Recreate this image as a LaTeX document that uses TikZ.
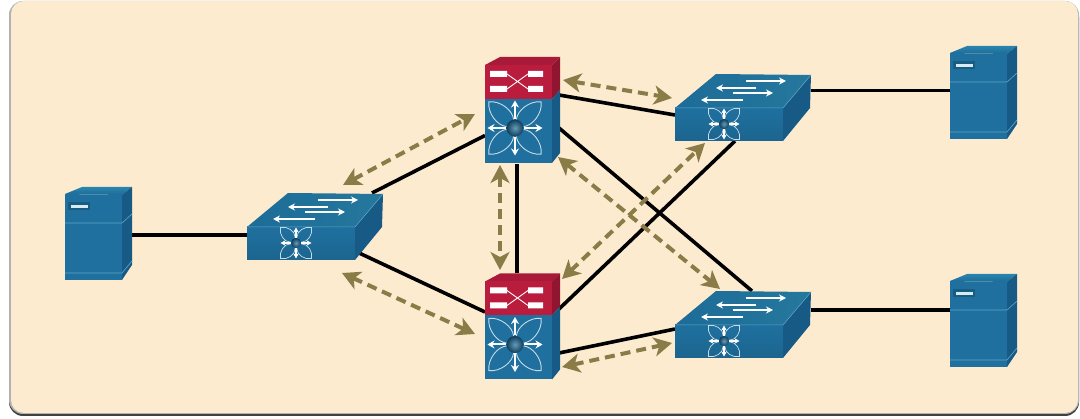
\documentclass[tikz,border=0pt]{standalone}
\usetikzlibrary{arrows.meta}
\definecolor{cream}{HTML}{FDEBD0}
\definecolor{linkol}{HTML}{8A7B47}
\definecolor{blfront}{HTML}{1F709F}
\definecolor{bltop}{HTML}{2A85AE}
\definecolor{bltopd}{HTML}{1C6C98}
\definecolor{blside}{HTML}{175A85}
\definecolor{blline}{HTML}{5FA8C8}
\definecolor{rdfront}{HTML}{B91C3C}
\definecolor{rdtop}{HTML}{A81A38}
\definecolor{rdside}{HTML}{8F1530}
\tikzset{
  box/.style={draw=none,fill=none,inner sep=0pt,outer sep=0pt,rectangle,minimum width=#1},
  link/.style={draw=black,line width=3.6pt},
  flow/.style={draw=linkol,line width=4pt,dash pattern=on 10pt off 6pt,
    {Stealth[length=18pt,width=19pt,inset=5pt]}-{Stealth[length=18pt,width=19pt,inset=5pt]}},
  wharrow/.style={draw=white,line width=2pt,-{Stealth[length=7pt,width=7pt]}},
  wharrowb/.style={draw=white,line width=2pt,-{Stealth[length=7pt,width=8pt]}},
  staricon/.pic={
    \foreach \a in {45,135,225,315}{
      \draw[white!75!blfront,line width=.9pt,rotate=\a]
        (7,-5) .. controls (14,-11) and (30,-9) .. (37,0)
        .. controls (30,9) and (14,11) .. (7,5);
    }
    \foreach \a in {0,90,180,270}{
      \draw[wharrowb,rotate=\a] (9,0) -- (27.5,0);
    }
    \shade[inner color=blfront!70!white,outer color=blfront!55!black] (0,0) circle (8.5);
  },
  smallstar/.pic={
    \foreach \a in {45,135,225,315}{
      \draw[white!75!blfront,line width=.7pt,rotate=\a]
        (4,-3) .. controls (9,-8) and (18,-6) .. (22,0)
        .. controls (18,6) and (9,8) .. (4,3);
    }
    \foreach \a in {0,90,180,270}{
      \draw[white,line width=1.3pt,-{Stealth[length=5pt,width=5.5pt]},rotate=\a] (5,0) -- (15.5,0);
    }
    \shade[inner color=blfront!70!white,outer color=blfront!55!black] (0,0) circle (5);
  },
  servericon/.pic={
    \shade[top color=bltop,bottom color=bltopd] (0,7) -- (17,0) -- (67,0) -- (57,8) -- cycle;
    \fill[blfront] (0,7) -- (57,8) -- (57,93) -- (0,93) -- cycle;
    \fill[blside] (57,8) -- (67,0) -- (67,78) -- (57,93) -- cycle;
    \draw[blline,line width=.6pt] (0,36) -- (57,36) -- (67,27);
    \draw[blline,line width=.6pt] (0,86) -- (57,86) -- (67,74);
    \fill[bltopd!85!black] (3,15) rectangle (25,23);
    \fill[white!75!blline] (6,18) rectangle (23,21);
  },
  switchicon/.pic={
    \shade[left color=bltopd,right color=bltop!90!black] (0,34) -- (41,0) -- (136,1) -- (108,34) -- cycle;
    \shade[top color=blfront,bottom color=blfront!90!black] (0,34) rectangle (108,67);
    \fill[blside] (108,34) -- (136,1) -- (135,34) -- (108,67) -- cycle;
    \draw[blline,line width=.5pt] (0,34) -- (108,34) -- (136,1);
    \draw[wharrow] (71,7) -- (111,7);
    \draw[wharrow] (81,14) -- (41,14);
    \draw[wharrow] (58,19) -- (98,19);
    \draw[wharrow] (68,26) -- (26,26);
    \pic at (49,50) {smallstar};
  },
  coreicon/.pic={
    \fill[rdtop] (0,8) -- (15,0) -- (75,0) -- (67,8) -- cycle;
    \fill[rdfront] (0,8) rectangle (67,42);
    \fill[rdside] (67,8) -- (75,0) -- (75,33) -- (67,42) -- cycle;
    \fill[white] (5,14) rectangle (22,20) (5,29) rectangle (22,35)
      (43,14) rectangle (58,20) (43,29) rectangle (58,35);
    \draw[white,line width=.9pt] (22,17) -- (43,32) (22,32) -- (43,17);
    \fill[blfront] (0,42) rectangle (67,106);
    \fill[blside] (67,42) -- (75,33) -- (75,96) -- (67,106) -- cycle;
    \pic at (30,71) {staricon};
  },
}
\begin{document}
\begin{tikzpicture}[x=1pt,y=-1pt]
\useasboundingbox (0,0) rectangle (1080,419);
\fill[white] (0,0) rectangle (1080,419);
% panel
\fill[black!75,rounded corners=14pt] (9,3) rectangle (1079,416);
\fill[black!30,rounded corners=14pt] (9,1) rectangle (1079,414);
\fill[cream,rounded corners=13pt] (11,1) rectangle (1078,413);
% layout boxes
\node[box=67pt,minimum height=94pt] (srvL) at (98.5,234) {};
\node[box=137pt,minimum height=68pt] (swL) at (315.5,227) {};
\node[box=74pt,minimum height=107pt] (coreT) at (522,110.5) {};
\node[box=74pt,minimum height=107pt] (coreB) at (522,327) {};
\node[box=136pt,minimum height=67pt] (swTR) at (743,107.5) {};
\node[box=136pt,minimum height=67pt] (swBR) at (743,324.5) {};
\node[box=67pt,minimum height=95pt] (srvTR) at (983.5,93.5) {};
\node[box=67pt,minimum height=94pt] (srvBR) at (983.5,321) {};
% links
\draw[link] ([yshift=-1pt]srvL.east) -- ([yshift=-8pt]swL.west);
\draw[link] ([xshift=-12pt]swL.north east) -- ([yshift=-25pt]coreT.west);
\draw[link] ([xshift=-27pt,yshift=9pt]swL.south east) -- ([yshift=15pt]coreB.west);
\draw[link] ([xshift=-5pt]coreT.south) -- ([xshift=-5pt]coreB.north);
\draw[link] ([yshift=15.5pt]coreT.east) -- ([yshift=-7.5pt]swTR.west);
\draw[link] ([yshift=-17.5pt]coreT.east) -- ([xshift=9pt]swBR.north);
\draw[link] ([yshift=18pt]coreB.east) -- ([xshift=-8pt]swTR.south);
\draw[link] ([yshift=-26pt]coreB.east) -- ([yshift=-4.5pt]swBR.west);
\draw[link] ([yshift=17pt]swTR.east) -- ([yshift=3pt]srvTR.west);
\draw[link] ([yshift=14.5pt]swBR.east) -- ([yshift=11pt]srvBR.west);
% devices
\pic at (srvL.north west) {servericon};
\pic at (srvTR.north west) {servericon};
\pic at (srvBR.north west) {servericon};
\pic at (swL.north west) {switchicon};
\pic at (swTR.north west) {switchicon};
\pic at (swBR.north west) {switchicon};
\pic at (coreT.north west) {coreicon};
\pic at (coreB.north west) {coreicon};
% traffic arrows
\coordinate (fa1) at (343,185); \coordinate (fb1) at (475,114);
\coordinate (fa2) at (342,273); \coordinate (fb2) at (475,334);
\coordinate (fa3) at (500,165); \coordinate (fb3) at (500,270);
\coordinate (fa4) at (563,80);  \coordinate (fb4) at (672,98);
\coordinate (fa5) at (558,157); \coordinate (fb5) at (720,289);
\coordinate (fa6) at (562,279); \coordinate (fb6) at (705,143);
\coordinate (fa7) at (562,367); \coordinate (fb7) at (672,343);
\foreach \i in {1,...,7}{\draw[flow] (fa\i) -- (fb\i);}
\end{tikzpicture}
\end{document}
